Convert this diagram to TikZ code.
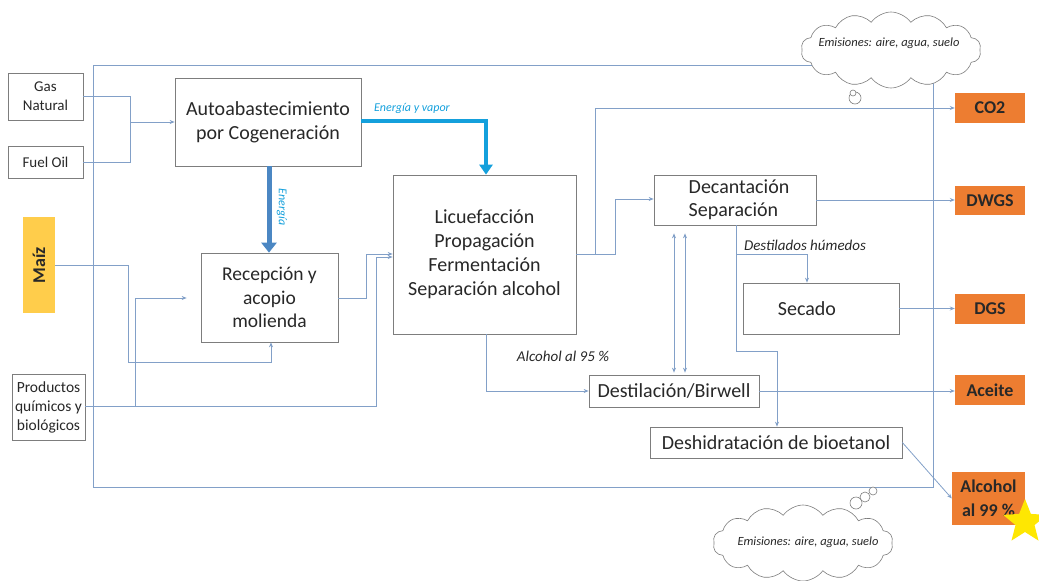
\documentclass[tikz,border=0pt]{standalone}
\usepackage{fontspec}
\setmainfont{Carlito}
\usetikzlibrary{arrows.meta,shapes.symbols,shapes.geometric}
\definecolor{ln}{RGB}{130,160,200}
\definecolor{bx}{RGB}{125,125,125}
\definecolor{org}{RGB}{237,125,49}
\definecolor{yel}{RGB}{255,205,75}
\definecolor{cyn}{RGB}{20,160,220}
\definecolor{stb}{RGB}{75,135,195}
\definecolor{txt}{RGB}{40,40,40}
\tikzset{
  pbox/.style={draw=bx, line width=0.7pt, fill=white, align=center, text=txt, inner sep=0pt},
  obox/.style={fill=org, align=center, text=txt, font=\fontsize{18}{24}\selectfont\bfseries, inner sep=0pt},
  flow/.style={draw=ln, line width=0.8pt, -{Stealth[length=5pt,width=4pt]}},
  flowp/.style={draw=ln, line width=0.8pt},
  lbl/.style={font=\fontsize{15}{17}\selectfont\itshape, text=txt},
  emi/.style={cloud, cloud puffs=14, cloud puff arc=110, draw=bx, line width=0.6pt, fill=white, aspect=2.4, inner sep=0pt},
  emit/.style={font=\fontsize{12.5}{15}\selectfont\itshape, text=txt},
  bub/.style={circle, draw=bx, line width=0.6pt, fill=white, inner sep=0pt}
}
\begin{document}
\begin{tikzpicture}[x=1pt,y=-1pt]
\useasboundingbox (0,0) rectangle (1039,581);
% frame
\draw[draw=ln, line width=0.8pt] (93,65) rectangle (933,487);
% boxes
\node[pbox, minimum width=75pt, minimum height=47pt, font=\fontsize{15}{19}\selectfont] (gas) at (45.5,96.5) {Gas\\Natural};
\node[pbox, minimum width=75pt, minimum height=32pt, font=\fontsize{15}{19}\selectfont] (fuel) at (45.5,162) {Fuel Oil};
\node[fill=yel, minimum width=96pt, minimum height=32pt, inner sep=0pt, rotate=90, font=\fontsize{18}{20}\selectfont\bfseries, text=txt] (maiz) at (39,265) {Maíz};
\node[pbox, minimum width=73pt, minimum height=66pt, font=\fontsize{15.5}{19}\selectfont] (prod) at (48.5,407) {Productos\\químicos y\\biológicos};
\node[pbox, minimum width=186pt, minimum height=88pt, font=\fontsize{20}{24}\selectfont] (auto) at (268,122) {Autoabastecimiento\\por Cogeneración};
\node[pbox, minimum width=137pt, minimum height=89pt, font=\fontsize{19.5}{23.5}\selectfont] (rec) at (269.5,297.5) {Recepción y\\acopio\\molienda};
\node[pbox, minimum width=183pt, minimum height=159pt, font=\fontsize{20}{24}\selectfont] (lic) at (484.5,254.5) {Licuefacción\\Propagación\\Fermentación\\Separación alcohol};
\node[pbox, minimum width=162pt, minimum height=50pt, align=left, font=\fontsize{20}{23}\selectfont] (dec) at (735,200) {\hspace*{8pt}Decantación\\\hspace*{8pt}Separación};
\node[pbox, minimum width=156pt, minimum height=51pt, font=\fontsize{20}{23}\selectfont] (sec) at (821,308.5) {\hspace*{-28pt}Secado};
\node[pbox, minimum width=170pt, minimum height=32pt, font=\fontsize{20}{23}\selectfont] (dest) at (674,391) {Destilación/Birwell};
\node[pbox, minimum width=252pt, minimum height=31pt, font=\fontsize{20}{23}\selectfont] (desh) at (776,442.5) {Deshidratación de bioetanol};
\node[obox, minimum width=70pt, minimum height=30pt] (co2) at (990,108) {CO2};
\node[obox, minimum width=70pt, minimum height=29pt] (dwgs) at (990,200.5) {DWGS};
\node[obox, minimum width=70pt, minimum height=30pt] (dgs) at (990,309) {DGS};
\node[obox, minimum width=70pt, minimum height=30pt] (ace) at (990,390) {Aceite};
\node[obox, minimum width=73pt, minimum height=53pt] (alc) at (988.5,498.5) {Alcohol\\al 99 \%};
\node[star, star points=5, star point ratio=2.3, fill=yellow!90!orange, inner sep=0pt, minimum size=46pt] (st) at (1025,522) {};
% clouds
\node[emi, minimum width=180pt, minimum height=76pt] (c1) at (891,50) {};
\node[emit] (c1t) at (889,43) {Emisiones: aire, agua, suelo};
\node[bub, minimum size=12pt] (b1) at (855,98) {};
\node[bub, minimum size=6pt] (b2) at (853,93) {};
\node[emi, minimum width=180pt, minimum height=76pt] (c2) at (803,543) {};
\node[emit] (c2t) at (808,542) {Emisiones: aire, agua, suelo};
\node[bub, minimum size=12pt] (b3) at (856,503) {};
\node[bub, minimum size=10pt] (b4) at (865,497) {};
\node[bub, minimum size=8pt] (b5) at (873,491) {};
% fuels
\coordinate (j1) at (130,122);
\draw[flowp] (gas.east) -- (gas.east -| j1) -- (fuel.east -| j1) -- (fuel.east);
\draw[flow] (j1) -- (auto.west |- j1);
% energy arrows
\draw[draw=cyn, line width=3.5pt, -{Triangle[length=10pt,width=13pt]}] (auto.east |- 0,121) -- (486,121) -- (lic.north -| 486,0);
\node[font=\fontsize{12}{14}\selectfont\itshape, text=cyn] (ev) at (412,108) {Energía y vapor};
\draw[draw=stb, line width=5pt, -{Triangle[length=10pt,width=15pt]}] (auto.south -| 269,0) -- (rec.north -| 269,0);
\node[font=\fontsize{12}{14}\selectfont\itshape, text=cyn, rotate=-90] (en) at (282,207) {Energía};
% maiz
\draw[flow] (maiz.south) -- (128,265) -- (128,362) -- (271,362) -- (rec.south -| 271,0);
% productos
\draw[flow] (prod.east |- 0,406) -- (376,406) -- (376,257) -- (lic.west |- 0,257);
\draw[flow, shorten >=14pt] (135,406) -- (135,298) -- (rec.west |- 0,298);
% recepcion to lic
\draw[flow] (rec.east |- 0,298) -- (366,298) -- (366,254) -- (lic.west |- 0,254);
% lic outputs
\draw[flow] (lic.east |- 0,254) -- (615,254) -- (615,199) -- (dec.west |- 0,199);
\draw[flow] (595,254) -- (595,108) -- (co2.west);
\draw[flow] (dec.east) -- (dwgs.west |- dec.east);
\draw[flow] (dec.south -| 736,0) -- (736,351) -- (777,351) -- (desh.north -| 777,0);
\draw[flow] (736,254) -- (807,254) -- (sec.north -| 807,0);
\node[lbl] (dh) at (805,245) {Destilados húmedos};
\draw[flow] (sec.east) -- (dgs.west |- sec.east);
\draw[flow] (lic.south -| 486,0) -- (486,391) -- (dest.west);
\node[lbl] (a95) at (563,356) {Alcohol al 95 \%};
\draw[flow] (dest.east) -- (ace.west |- dest.east);
\draw[flow] (desh.east) -- (alc.west);
% recirculation
\draw[draw=ln, line width=0.8pt, {Stealth[length=5pt,width=4pt]}-{Stealth[length=5pt,width=4pt]}] ([xshift=-61pt,yshift=-8pt]dec.south) -- ([yshift=2pt]dest.north);
\draw[draw=ln, line width=0.8pt, {Stealth[length=5pt,width=4pt]}-{Stealth[length=5pt,width=4pt]}] ([xshift=-50pt,yshift=-8pt]dec.south) -- ([xshift=11pt,yshift=2pt]dest.north);
\end{tikzpicture}
\end{document}
